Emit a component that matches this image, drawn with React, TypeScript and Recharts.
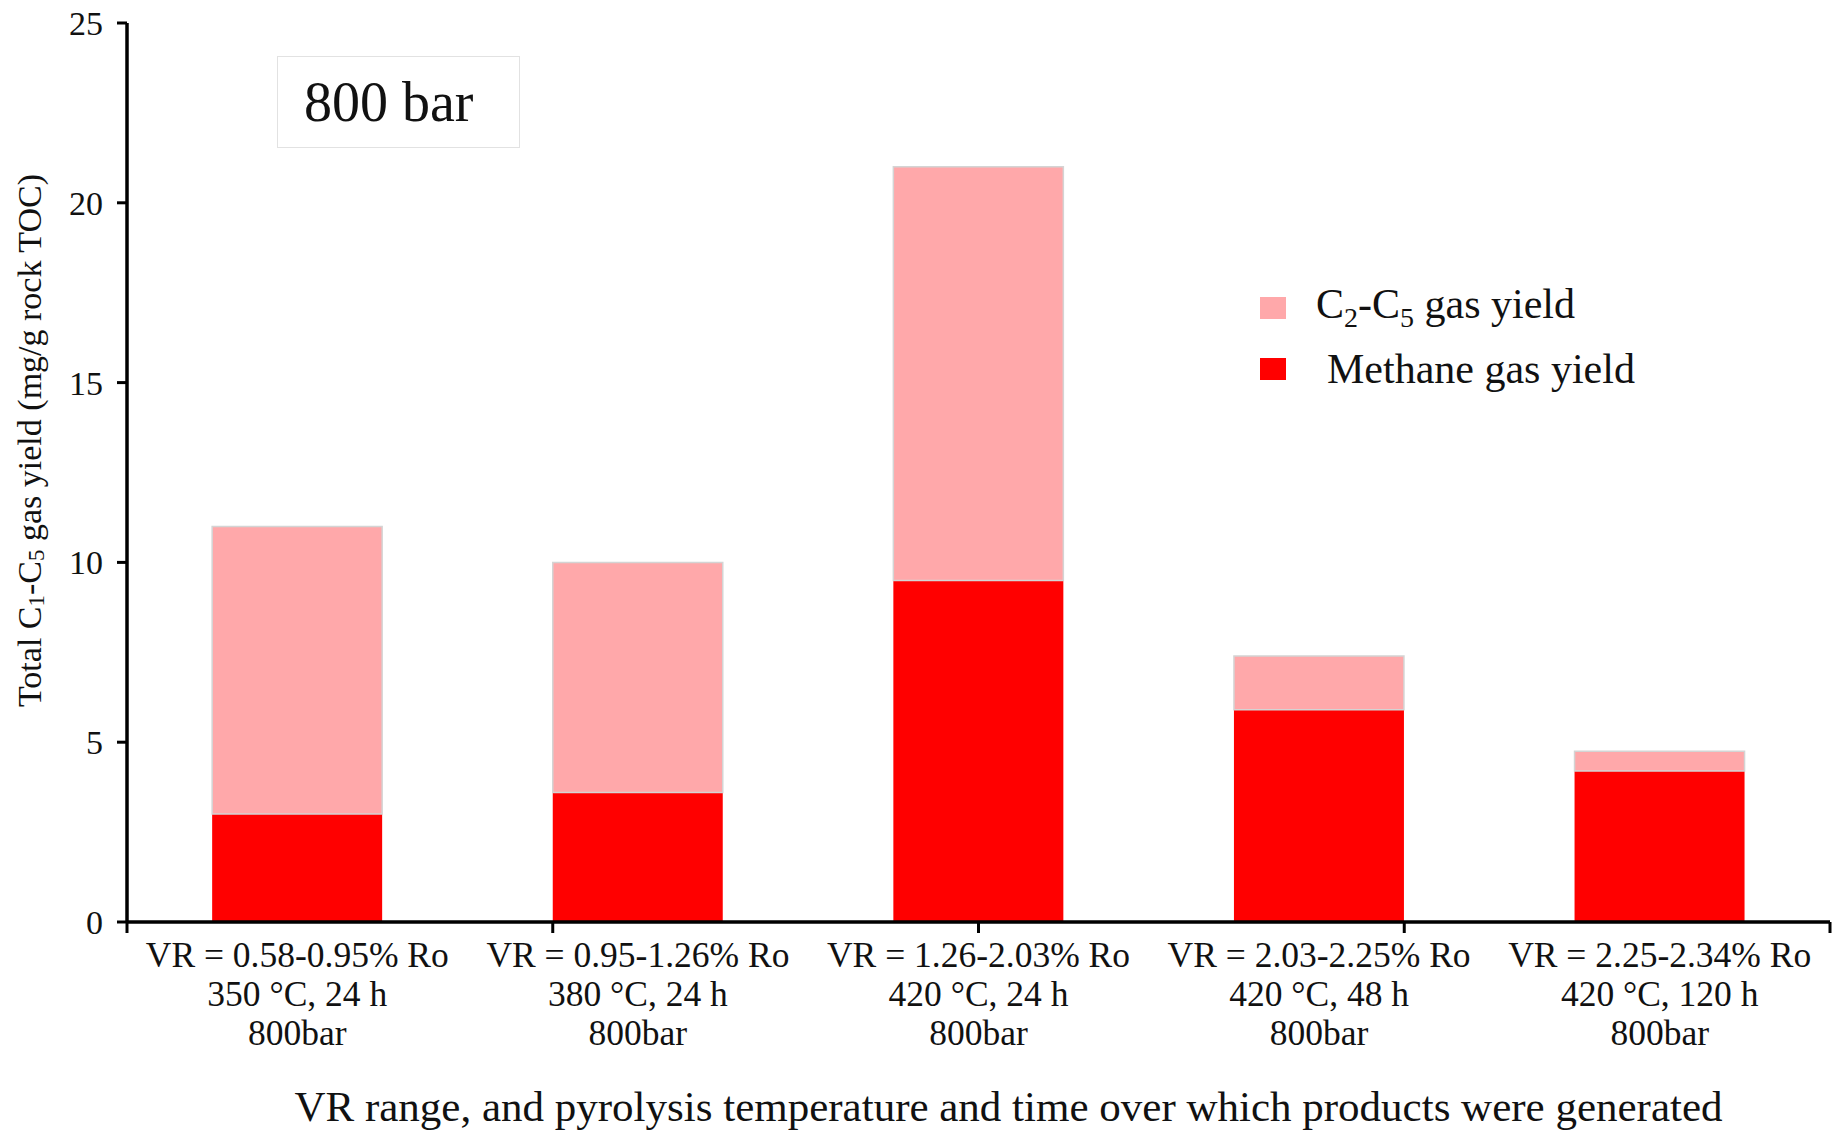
import { BarChart, Bar, XAxis, YAxis, Legend } from "recharts";

const FONT = '"Liberation Serif", "Times New Roman", serif';

const vrRanges = [
  "VR = 0.58-0.95% Ro",
  "VR = 0.95-1.26% Ro",
  "VR = 1.26-2.03% Ro",
  "VR = 2.03-2.25% Ro",
  "VR = 2.25-2.34% Ro",
];
const conditions = ["350 °C, 24 h", "380 °C, 24 h", "420 °C, 24 h", "420 °C, 48 h", "420 °C, 120 h"];
const pressures = ["800bar", "800bar", "800bar", "800bar", "800bar"];

// mg/g rock TOC
const methaneYield = [3.0, 3.6, 9.5, 5.9, 4.2];
const c2c5Yield = [8.0, 6.4, 11.5, 1.5, 0.55];

const yTicks = [0, 5, 10, 15, 20, 25];
const boundaryTicks = [0, 1, 2, 3, 4, 5];

const data = vrRanges.map((vr, i) => ({
  idx: i,
  vr,
  methane: methaneYield[i],
  c2c5: c2c5Yield[i],
}));

function CategoryTick({ x, y, payload }: any) {
  const i = payload.value;
  return (
    <text x={x} y={y} textAnchor="middle" fontFamily={FONT} fontSize={35.5} fill="#111">
      <tspan x={x} dy={44}>{vrRanges[i]}</tspan>
      <tspan x={x} dy={39}>{conditions[i]}</tspan>
      <tspan x={x} dy={39}>{pressures[i]}</tspan>
    </text>
  );
}

function YTitle({ viewBox }: any) {
  const cx = viewBox.x - 38;
  const cy = viewBox.y + viewBox.height / 2 - 32;
  return (
    <text
      x={cx}
      y={cy}
      transform={`rotate(-90, ${cx}, ${cy})`}
      textAnchor="middle"
      dominantBaseline="central"
      fontFamily={FONT}
      fontSize={34}
      fill="#111"
    >
      Total C<tspan dy={7} fontSize={23}>1</tspan>
      <tspan dy={-7}>-C</tspan>
      <tspan dy={7} fontSize={23}>5</tspan>
      <tspan dy={-7}> gas yield (mg/g rock TOC)</tspan>
    </text>
  );
}

function XTitle({ viewBox }: any) {
  return (
    <text
      x={viewBox.x + viewBox.width / 2 + 30}
      y={viewBox.y + viewBox.height - 10}
      textAnchor="middle"
      fontFamily={FONT}
      fontSize={43}
      fill="#111"
    >
      VR range, and pyrolysis temperature and time over which products were generated
    </text>
  );
}

function LegendBox({ payload }: any) {
  const items = [...(payload || [])].sort((a: any, b: any) => (a.dataKey === "c2c5" ? -1 : b.dataKey === "c2c5" ? 1 : 0));
  return (
    <div style={{ fontFamily: FONT, fontSize: 42, color: "#111" }}>
      {items.map((p: any) => (
        <div key={p.dataKey} style={{ display: "flex", alignItems: "center", height: 61 }}>
          <span style={{ display: "inline-block", width: 26, height: 22, background: p.color }} />
          {p.dataKey === "c2c5" ? (
            <span style={{ marginLeft: 30 }}>
              C<sub style={{ fontSize: 28 }}>2</sub>-C<sub style={{ fontSize: 28 }}>5</sub> gas yield
            </span>
          ) : (
            <span style={{ marginLeft: 41 }}>Methane gas yield</span>
          )}
        </div>
      ))}
    </div>
  );
}

export default function App() {
  return (
    <div style={{ position: "absolute", left: 0, top: 0, width: 1842, height: 1131, background: "#fff" }}>
      <BarChart
        width={1842}
        height={1131}
        data={data}
        margin={{ top: 23, right: 12, left: 67, bottom: 0 }}
        barCategoryGap="25%"
      >
        <XAxis
          xAxisId="a"
          type="number"
          domain={[0, 5]}
          ticks={boundaryTicks}
          height={1}
          allowDataOverflow
          tickFormatter={() => ""}
          tickSize={11}
          axisLine={{ stroke: "#000", strokeWidth: 3.5 }}
          tickLine={{ stroke: "#000", strokeWidth: 3 }}
        />
        <XAxis
          xAxisId="b"
          dataKey="idx"
          height={208}
          axisLine={false}
          tickLine={false}
          tickSize={0}
          tickMargin={0}
          interval={0}
          tick={<CategoryTick />}
          label={{ content: (props: any) => <XTitle {...props} /> }}
        />
        <YAxis
          domain={[0, 25]}
          ticks={yTicks}
          width={60}
          tickSize={10}
          tickMargin={14}
          axisLine={{ stroke: "#000", strokeWidth: 3.5 }}
          tickLine={{ stroke: "#000", strokeWidth: 3 }}
          tick={{ fontFamily: FONT, fontSize: 34, fill: "#111" }}
          label={{ content: (props: any) => <YTitle {...props} /> }}
        />
        <Legend
          layout="vertical"
          align="center"
          verticalAlign="middle"
          content={<LegendBox />}
          wrapperStyle={{ left: 1260, top: 277, width: 420 }}
        />
        <Bar xAxisId="b" dataKey="methane" name="Methane gas yield" stackId="a" fill="#ff0000" isAnimationActive={false} />
        <Bar
          xAxisId="b"
          dataKey="c2c5"
          name="C2-C5 gas yield"
          stackId="a"
          fill="#ffa8aa"
          stroke="#d4d4d4"
          strokeWidth={1.5}
          isAnimationActive={false}
        />
      </BarChart>
      <div
        style={{
          position: "absolute",
          left: 277,
          top: 56,
          width: 243,
          height: 92,
          boxSizing: "border-box",
          border: "1px solid #e2e2e2",
          fontFamily: FONT,
          fontSize: 56,
          lineHeight: "90px",
          paddingLeft: 26,
          color: "#111",
        }}
      >
        800 bar
      </div>
    </div>
  );
}
